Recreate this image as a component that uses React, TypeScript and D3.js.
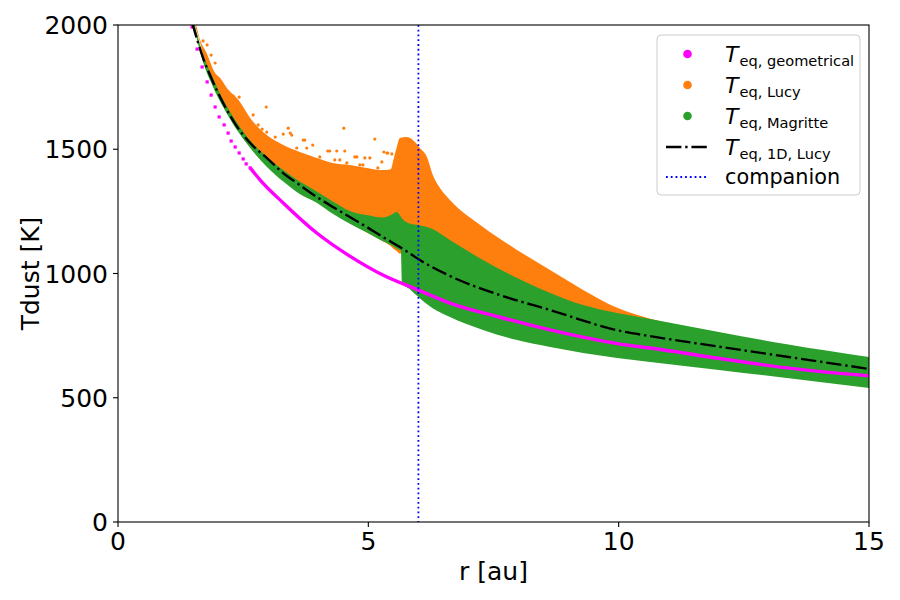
import React from "react";
import * as d3 from "d3";

// ---------- data ----------
const xTicks = [0, 5, 10, 15];
const yTicks = [0, 500, 1000, 1500, 2000];

// Magritte (green) band: radius, upper and lower envelope of the point cloud
const greenR = [1.52, 1.7, 1.9, 2.1, 2.4, 2.64, 2.97, 3.3, 3.63, 3.97, 4.29, 4.63, 4.97, 5.29, 5.45, 5.57, 5.65, 5.67, 5.84, 6.0, 6.27, 6.63, 7.29, 7.97, 8.63, 9.29, 9.97, 10.63, 12.0, 13.36, 15.0];
const greenHi = [2010, 1880, 1785, 1700, 1600, 1535, 1470, 1416, 1370, 1330, 1290, 1252, 1235, 1225, 1235, 1247, 1228, 1222, 1200, 1195, 1180, 1135, 1054, 982, 922, 873, 841, 817, 765, 715, 664];
const greenLo = [1990, 1850, 1750, 1670, 1570, 1505, 1430, 1370, 1320, 1285, 1240, 1200, 1165, 1130, 1115, 1100, 1092, 965, 935, 905, 862, 825, 773, 732, 704, 680, 660, 644, 612, 579, 539];

// Lucy (orange) band: radius, upper and lower envelope of the dense cloud
const orangeR = [1.55, 1.64, 1.76, 1.94, 2.04, 2.2, 2.4, 2.64, 2.84, 2.97, 3.3, 3.63, 3.97, 4.29, 4.63, 4.97, 5.29, 5.45, 5.5, 5.57, 5.63, 5.77, 5.89, 6.03, 6.17, 6.29, 6.43, 6.63, 7.29, 7.97, 8.63, 9.29, 9.97, 10.63, 11.0];
const orangeHi = [2010, 1940, 1891, 1807, 1787, 1740, 1700, 1626, 1580, 1557, 1517, 1489, 1465, 1445, 1437, 1425, 1416, 1420, 1457, 1509, 1545, 1549, 1537, 1505, 1469, 1395, 1344, 1296, 1187, 1095, 1014, 934, 862, 818, 800];
const orangeLo = [1990, 1930, 1830, 1740, 1700, 1640, 1580, 1515, 1460, 1440, 1380, 1330, 1295, 1250, 1205, 1165, 1130, 1110, 1100, 1090, 1080, 1080, 1070, 1050, 1030, 1010, 990, 960, 890, 830, 790, 760, 740, 720, 710];

// Lucy (orange) scattered outliers above the dense cloud
const orangeDotR = [1.7, 1.78, 1.86, 1.94, 2.02, 2.18, 2.3, 2.42, 2.5, 2.7, 2.64, 2.8, 2.96, 2.88, 2.97, 3.14, 3.3, 3.4, 3.44, 3.57, 3.73, 3.77, 3.89, 4.03, 4.09, 4.19, 4.33, 4.37, 4.43, 4.51, 4.53, 4.57, 4.63, 4.77, 4.77, 4.83, 4.89, 4.93, 5.03, 5.13, 5.13, 5.17, 5.19, 5.27, 5.31, 5.39, 5.47, 5.49, 3.47, 3.7, 4.23, 4.73, 5.37];
const orangeDotT = [1936, 1920, 1879, 1847, 1779, 1726, 1714, 1710, 1642, 1638, 1610, 1598, 1670, 1581, 1569, 1549, 1561, 1585, 1565, 1505, 1537, 1505, 1517, 1469, 1437, 1493, 1457, 1493, 1457, 1585, 1493, 1445, 1416, 1469, 1416, 1437, 1437, 1465, 1465, 1541, 1396, 1408, 1425, 1449, 1489, 1485, 1481, 1404, 1557, 1537, 1493, 1469, 1485];

// geometrical (magenta): sparse points at small radii, then a dense track
const magDotR = [1.48, 1.58, 1.68, 1.78, 1.86, 1.94, 2.02, 2.12, 2.2, 2.26, 2.34, 2.42, 2.5, 2.56, 2.64];
const magDotT = [1992, 1903, 1831, 1771, 1718, 1670, 1630, 1598, 1565, 1533, 1509, 1485, 1461, 1441, 1425];
const magLineR = [2.64, 2.84, 3.3, 3.97, 4.63, 5.29, 5.97, 6.63, 7.63, 8.63, 10.03, 10.63, 12.02, 13.36, 15.0];
const magLineT = [1425, 1376, 1284, 1163, 1070, 994, 936, 881, 824, 773, 716, 700, 658, 620, 588];

// 1D Lucy (black dash-dot)
const lucy1dR = [1.48, 1.7, 1.88, 2.1, 2.38, 2.64, 2.97, 3.3, 3.63, 3.97, 4.29, 4.63, 4.97, 5.29, 5.63, 6.03, 6.63, 7.63, 8.63, 10.03, 10.63, 12.02, 13.36, 15.0];
const lucy1dT = [2010, 1867, 1779, 1686, 1590, 1525, 1465, 1404, 1356, 1308, 1268, 1227, 1187, 1147, 1107, 1054, 990, 913, 853, 769, 748, 705, 665, 616];

const companionR = 6;

const legendSubs = ["eq, geometrical", "eq, Lucy", "eq, Magritte", "eq, 1D, Lucy"];
const legendColors = ["#ff00ff", "#ff7f0e", "#2ca02c"];

// ---------- layout ----------
const W = 900;
const H = 600;
const L = 118, R = 869, T = 25, B = 522;
const FONT = "DejaVu Sans";

export default function App() {
  const x = d3.scaleLinear().domain([0, 15]).range([L, R]);
  const y = d3.scaleLinear().domain([0, 2000]).range([B, T]);

  const band = (rs: number[], lo: number[], hi: number[]) =>
    d3
      .area<number>()
      .x((i) => x(rs[i]))
      .y0((i) => y(lo[i]))
      .y1((i) => y(hi[i]))
      .curve(d3.curveMonotoneX)(d3.range(rs.length)) || "";

  const line = (rs: number[], ts: number[]) =>
    d3
      .line<number>()
      .x((i) => x(rs[i]))
      .y((i) => y(ts[i]))
      .curve(d3.curveMonotoneX)(d3.range(rs.length)) || "";

  const lw = 2.4;
  const dashDot = [6.4 * lw, 1.6 * lw, 1 * lw, 1.6 * lw].join(",");
  const dotLw = 1.8;
  const dotted = [1 * dotLw, 1.65 * dotLw].join(",");

  const legX = 657, legY = 35, legW = 203, legH = 160;
  const rowY = [54, 85, 116, 147, 177];
  const handleX0 = 666, handleX1 = 707, markX = 687.5, textX = 725;

  return (
    <svg
      width={W}
      height={H}
      viewBox={`0 0 ${W} ${H}`}
      style={{ position: "absolute", left: 0, top: 0, background: "#fff" }}
      fontFamily={FONT}
    >
      <defs>
        <clipPath id="plotClip">
          <rect x={L} y={T} width={R - L} height={B - T} />
        </clipPath>
      </defs>
      <rect x={0} y={0} width={W} height={H} fill="#fff" />

      <g clipPath="url(#plotClip)">
        {/* Lucy cloud */}
        <path d={band(orangeR, orangeLo, orangeHi)} fill="#ff7f0e" />
        {orangeDotR.map((r, i) => (
          <circle key={"od" + i} cx={x(r)} cy={y(orangeDotT[i])} r={1.6} fill="#ff7f0e" />
        ))}
        {/* Magritte cloud */}
        <path d={band(greenR, greenLo, greenHi)} fill="#2ca02c" />
        {/* geometrical */}
        {magDotR.map((r, i) => (
          <rect
            key={"md" + i}
            x={x(r) - 1.6}
            y={y(magDotT[i]) - 1.6}
            width={3.2}
            height={3.2}
            fill="#ff00ff"
          />
        ))}
        <path d={line(magLineR, magLineT)} fill="none" stroke="#ff00ff" strokeWidth={3.4} />
        {/* 1D Lucy */}
        <path
          d={line(lucy1dR, lucy1dT)}
          fill="none"
          stroke="#000"
          strokeWidth={lw}
          strokeDasharray={dashDot}
        />
        {/* companion */}
        <line
          x1={x(companionR)}
          x2={x(companionR)}
          y1={T}
          y2={B}
          stroke="#0000ff"
          strokeWidth={dotLw}
          strokeDasharray={dotted}
        />
      </g>

      {/* frame */}
      <rect x={L} y={T} width={R - L} height={B - T} fill="none" stroke="#000" strokeWidth={1.1} />

      {/* x ticks */}
      {xTicks.map((t) => (
        <g key={"xt" + t}>
          <line x1={x(t)} x2={x(t)} y1={B} y2={B + 5} stroke="#000" strokeWidth={1.1} />
          <text x={x(t)} y={B + 28} fontSize={25} textAnchor="middle" fill="#000">
            {t}
          </text>
        </g>
      ))}
      {/* y ticks */}
      {yTicks.map((t) => (
        <g key={"yt" + t}>
          <line x1={L - 5} x2={L} y1={y(t)} y2={y(t)} stroke="#000" strokeWidth={1.1} />
          <text x={L - 10} y={y(t) + 9} fontSize={25} textAnchor="end" fill="#000">
            {t}
          </text>
        </g>
      ))}

      {/* axis labels */}
      <text x={(L + R) / 2} y={580} fontSize={25} textAnchor="middle" fill="#000">
        r [au]
      </text>
      <text
        transform={`translate(39, ${(T + B) / 2}) rotate(-90)`}
        fontSize={25}
        textAnchor="middle"
        fill="#000"
      >
        Tdust [K]
      </text>

      {/* legend */}
      <rect
        x={legX}
        y={legY}
        width={legW}
        height={legH}
        rx={4}
        fill="#fff"
        fillOpacity={0.8}
        stroke="#cccccc"
        strokeWidth={1}
      />
      {legendColors.map((c, i) => (
        <circle key={"lm" + i} cx={markX} cy={rowY[i]} r={4.3} fill={c} />
      ))}
      <line
        x1={handleX0}
        x2={handleX1}
        y1={rowY[3]}
        y2={rowY[3]}
        stroke="#000"
        strokeWidth={lw}
        strokeDasharray={dashDot}
      />
      <line
        x1={handleX0}
        x2={handleX1}
        y1={rowY[4]}
        y2={rowY[4]}
        stroke="#0000ff"
        strokeWidth={dotLw}
        strokeDasharray={dotted}
      />
      {legendSubs.map((s, i) => (
        <text key={"lt" + i} x={textX} y={rowY[i] + 8} fontSize={22} fill="#000">
          <tspan fontStyle="italic">T</tspan>
          <tspan fontSize={14.6} dx={1} dy={3.5}>
            {s}
          </tspan>
        </text>
      ))}
      <text x={textX} y={rowY[4] + 7} fontSize={20.8} fill="#000">
        companion
      </text>
    </svg>
  );
}
